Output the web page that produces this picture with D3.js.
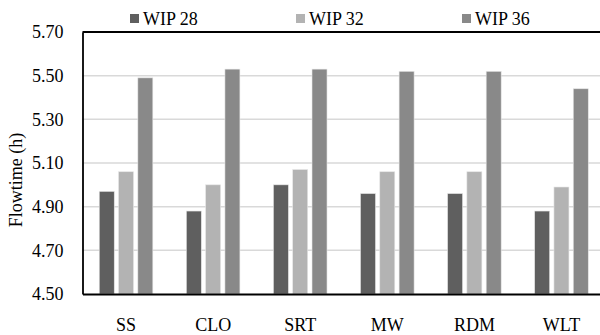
<!DOCTYPE html>
<html>
<head>
<meta charset="utf-8">
<script src="https://cdn.jsdelivr.net/npm/d3@7"></script>
<style>
  body { margin: 0; background: #fff; }
</style>
</head>
<body>
<div id="chart"></div>
<script>
const categories = ["SS", "CLO", "SRT", "MW", "RDM", "WLT"]
const seriesNames = ["WIP 28", "WIP 32", "WIP 36"]
const wip28 = [4.97, 4.88, 5.00, 4.96, 4.96, 4.88]
const wip32 = [5.06, 5.00, 5.07, 5.06, 5.06, 4.99]
const wip36 = [5.49, 5.53, 5.53, 5.52, 5.52, 5.44]
const yTicks = [4.50, 4.70, 4.90, 5.10, 5.30, 5.50, 5.70]
const colors = ["#5f5f5f", "#b3b3b3", "#898989"]

const seriesValues = [wip28, wip32, wip36]
const data = categories.map((c, i) => ({
    category: c,
    values: seriesNames.map((s, j) => ({ series: s, value: seriesValues[j][i] }))
}))

const font = "'Liberation Serif'"

const dimensions = {
    width: 600,
    height: 335,
    margins: { top: 32, left: 82.5, bottom: 41 }
}
// the plot area runs past the right edge of the picture, as in the reference
const plotRight = 605

const svg = d3.select("#chart").append("svg")
    .attr("width", dimensions.width)
    .attr("height", dimensions.height)
    .style("display", "block")

const yScale = d3.scaleLinear()
    .domain([4.5, 5.7])
    .range([dimensions.height - dimensions.margins.bottom, dimensions.margins.top])

const xScale = d3.scaleBand()
    .domain(categories)
    .range([dimensions.margins.left, plotRight])

const groupWidth = 53.6
const x1 = d3.scaleBand()
    .domain(seriesNames)
    .range([0, groupWidth])
    .paddingInner(0.223)

const color = d3.scaleOrdinal().domain(seriesNames).range(colors)

// gridlines
svg.append("g")
    .selectAll("line")
    .data(yTicks.filter(d => d > 4.5 && d < 5.7))
    .join("line")
    .attr("x1", dimensions.margins.left)
    .attr("x2", plotRight)
    .attr("y1", d => yScale(d))
    .attr("y2", d => yScale(d))
    .attr("stroke", "#d9d9d9")
    .attr("stroke-width", 1.5)

// bars
const groups = svg.append("g")
    .selectAll("g")
    .data(data)
    .join("g")
    .attr("transform", d => `translate(${xScale(d.category) + (xScale.bandwidth() - groupWidth) / 2},0)`)

groups.selectAll("rect")
    .data(d => d.values)
    .join("rect")
    .attr("x", d => x1(d.series))
    .attr("width", x1.bandwidth())
    .attr("y", d => yScale(d.value))
    .attr("height", d => yScale(4.5) - yScale(d.value))
    .attr("fill", d => color(d.series))
    .attr("stroke", "#e6e6e6")
    .attr("stroke-width", 0.6)

// y axis
const yAxis = svg.append("g")
    .attr("transform", `translate(${dimensions.margins.left},0)`)
    .call(d3.axisLeft(yScale).tickValues(yTicks).tickFormat(d3.format(".2f")).tickSize(0).tickPadding(19))
yAxis.select(".domain").attr("stroke", "#000").attr("stroke-width", 1.8)
yAxis.selectAll("text")
    .style("font-family", font)
    .style("font-size", "18px")
    .attr("fill", "#000")

// x axis
const xAxis = svg.append("g")
    .attr("transform", `translate(0,${yScale(4.5)})`)
    .call(d3.axisBottom(xScale).tickSize(0).tickPadding(24))
xAxis.select(".domain").attr("stroke", "#000").attr("stroke-width", 1.8)
xAxis.selectAll("text")
    .style("font-family", font)
    .style("font-size", "18px")
    .attr("fill", "#000")

// top border
svg.append("line")
    .attr("x1", dimensions.margins.left)
    .attr("x2", plotRight)
    .attr("y1", yScale(5.7))
    .attr("y2", yScale(5.7))
    .attr("stroke", "#000")
    .attr("stroke-width", 1.8)

// y axis title
svg.append("text")
    .attr("transform", "translate(22,180) rotate(-90)")
    .attr("text-anchor", "middle")
    .style("font-family", font)
    .style("font-size", "18px")
    .attr("fill", "#000")
    .text("Flowtime (h)")

// legend
const legendX = [130, 296, 462]
const legend = svg.append("g")
    .selectAll("g")
    .data(seriesNames)
    .join("g")
    .attr("transform", (d, i) => `translate(${legendX[i]},0)`)

legend.append("rect")
    .attr("x", 0)
    .attr("y", 14)
    .attr("width", 9)
    .attr("height", 9)
    .attr("fill", d => color(d))

legend.append("text")
    .attr("x", 13)
    .attr("y", 24.5)
    .style("font-family", font)
    .style("font-size", "18px")
    .attr("fill", "#000")
    .text(d => d)
</script>
</body>
</html>
